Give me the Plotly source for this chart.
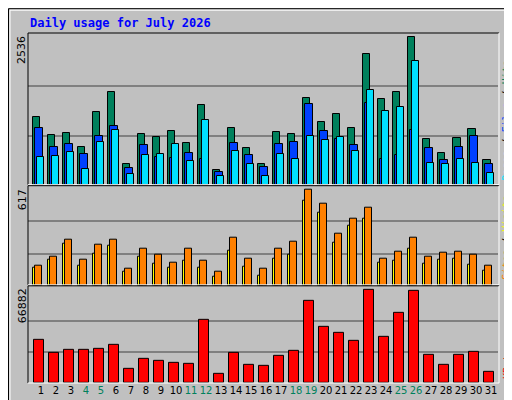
import plotly.graph_objects as go

days = list(range(1, 32))
weekend = [4, 5, 11, 12, 18, 19, 25, 26]

hits = [1159, 849, 884, 643, 1245, 1589, 350, 866, 815, 918, 711, 1366, 247, 970, 625, 350,
        901, 866, 1486, 1073, 1211, 970, 2243, 1469, 1589, 2536, 780, 539, 798, 952, 419]
files = [970, 643, 694, 522, 832, 1004, 281, 677, 470, 453, 539, 436, 212, 711, 505, 298,
         694, 729, 1383, 918, 780, 677, 1400, 436, 505, 935, 625, 419, 643, 832, 350]
pages = [470, 488, 557, 264, 729, 935, 178, 505, 522, 694, 402, 1107, 143, 574, 350, 143,
         522, 436, 832, 763, 815, 574, 1624, 1262, 1331, 2123, 367, 350, 436, 367, 195]
visits = [129, 189, 296, 169, 263, 296, 109, 236, 196, 149, 236, 163, 89, 310, 176, 109,
          236, 283, 617, 523, 336, 430, 497, 176, 216, 310, 183, 209, 216, 196, 129]
sites = [116, 169, 269, 129, 203, 256, 89, 183, 143, 116, 163, 116, 56, 223, 122, 62,
         176, 196, 543, 470, 276, 383, 430, 149, 163, 236, 143, 169, 176, 136, 96]
kbytes = [31000, 21480, 23680, 23680, 24410, 27340, 10500, 17090, 15620, 14890, 14160, 45650,
          6830, 21480, 13430, 12690, 19280, 22950, 59560, 40520, 36130, 30270, 66882, 33200,
          50770, 66150, 20020, 13430, 20020, 22210, 8300]

W, H = 512, 400
L, R, T, B = 20, 22, 25, 22
PW, PH = W - L - R, H - T - B


def px(x):
    return (x - L) / PW


def py(y):
    return (H - B - y) / PH


GRAY = "#C0C0C0"
fig = go.Figure()


def bar(y, color, offset, width, axis):
    fig.add_trace(go.Bar(x=days, y=y, offset=offset, width=width, marker_color=color,
                         marker_line=dict(color="black", width=1), xaxis="x", yaxis=axis,
                         showlegend=False, hoverinfo="y"))


bar(hits, "#00805C", -0.51, 0.47, "y3")
bar(files, "#0040FF", -0.38, 0.49, "y3")
bar(pages, "#00E0FF", -0.25, 0.47, "y3")
bar(sites, "#FFFF00", -0.51, 0.29, "y2")
bar(visits, "#FF8000", -0.38, 0.42, "y2")
bar(kbytes, "#FF0000", -0.45, 0.67, "y")

ticktext = [f"<span style='color:#00805C'>{d}</span>" if d in weekend else str(d) for d in days]

yax = dict(showticklabels=False, ticks="", showgrid=True, gridcolor="#808080", gridwidth=1.5,
           zeroline=False, showline=False, fixedrange=True)
mx_top, mx_mid, mx_bot = max(hits), max(visits), max(kbytes)
fig.update_layout(
    width=W, height=H, margin=dict(l=L, r=R, t=T, b=B),
    paper_bgcolor=GRAY, plot_bgcolor=GRAY, barmode="overlay",
    font=dict(family="DejaVu Sans", size=11, color="black"),
    xaxis=dict(range=[0.13, 31.46], tickvals=days, ticktext=ticktext, showgrid=False,
               ticks="", tickangle=0, tickfont=dict(size=10), anchor="y"),
    yaxis=dict(domain=[0, py(280)], range=[0, mx_bot * 95.7 / 91.4],
               tickvals=[mx_bot / 3, 2 * mx_bot / 3], **yax),
    yaxis2=dict(domain=[py(280), py(178)], range=[0, mx_mid * 96.7 / 92.4],
                tickvals=[mx_mid / 3, 2 * mx_mid / 3], **yax),
    yaxis3=dict(domain=[py(178), 1], range=[0, mx_top * 151.7 / 147.4],
                tickvals=[mx_top / 3, 2 * mx_top / 3], **yax),
    bargap=0,
)

# panel frames and outer border
shapes = []
for top, bot in [(25, 178), (179, 279), (280, 378)]:
    shapes.append(dict(type="line", x0=px(20), x1=px(491), y0=py(top), y1=py(top), line=dict(color="black", width=1)))
    shapes.append(dict(type="line", x0=px(20), x1=px(20), y0=py(top), y1=py(bot), line=dict(color="black", width=1)))
    shapes.append(dict(type="line", x0=px(491), x1=px(491), y0=py(top), y1=py(bot), line=dict(color="white", width=1)))
    shapes.append(dict(type="line", x0=px(20), x1=px(491), y0=py(bot), y1=py(bot), line=dict(color="white", width=1)))
shapes.append(dict(type="rect", x0=px(0.5), x1=px(511.5), y0=py(0.5), y1=py(399.5), line=dict(color="black", width=1)))
shapes.append(dict(type="rect", x0=px(2), x1=px(509), y0=py(2), y1=py(397), line=dict(color="white", width=1)))
shapes.append(dict(type="line", x0=px(2), x1=px(509), y0=py(397), y1=py(397), line=dict(color="#808080", width=2)))
shapes.append(dict(type="line", x0=px(509), x1=px(509), y0=py(2), y1=py(397), line=dict(color="#808080", width=2)))
for s in shapes:
    s.update(xref="paper", yref="paper", layer="above")
fig.update_layout(shapes=shapes)

mono = "DejaVu Sans Mono"
ann = [
    dict(x=px(20), y=py(15), text="<b>Daily usage for July 2026</b>", xanchor="left", yanchor="middle",
         font=dict(family=mono, size=12, color="#0000FF")),
    dict(x=px(14), y=py(26), text=str(mx_top), textangle=-90, xanchor="center", yanchor="top"),
    dict(x=px(14), y=py(181), text=str(mx_mid), textangle=-90, xanchor="center", yanchor="top"),
    dict(x=px(14), y=py(281), text=str(mx_bot), textangle=-90, xanchor="center", yanchor="top"),
    dict(x=px(499), y=py(176), textangle=-90, xanchor="center", yanchor="bottom",
         text="<span style='color:#00E0FF'>Pages</span> / <span style='color:#0040FF'>Files</span>"
              " / <span style='color:#00805C'>Hits</span>", font=dict(family=mono, size=10)),
    dict(x=px(499), y=py(276), textangle=-90, xanchor="center", yanchor="bottom",
         text="<span style='color:#FF8000'>Sites</span> / <span style='color:#FFFF00'>Visits</span>",
         font=dict(family=mono, size=10)),
    dict(x=px(499), y=py(376), textangle=-90, xanchor="center", yanchor="bottom",
         text="<span style='color:#FF0000'>KBytes</span>", font=dict(family=mono, size=10)),
]
for a in ann:
    a.update(xref="paper", yref="paper", showarrow=False)
fig.update_layout(annotations=ann)

fig.write_html("out.html")
